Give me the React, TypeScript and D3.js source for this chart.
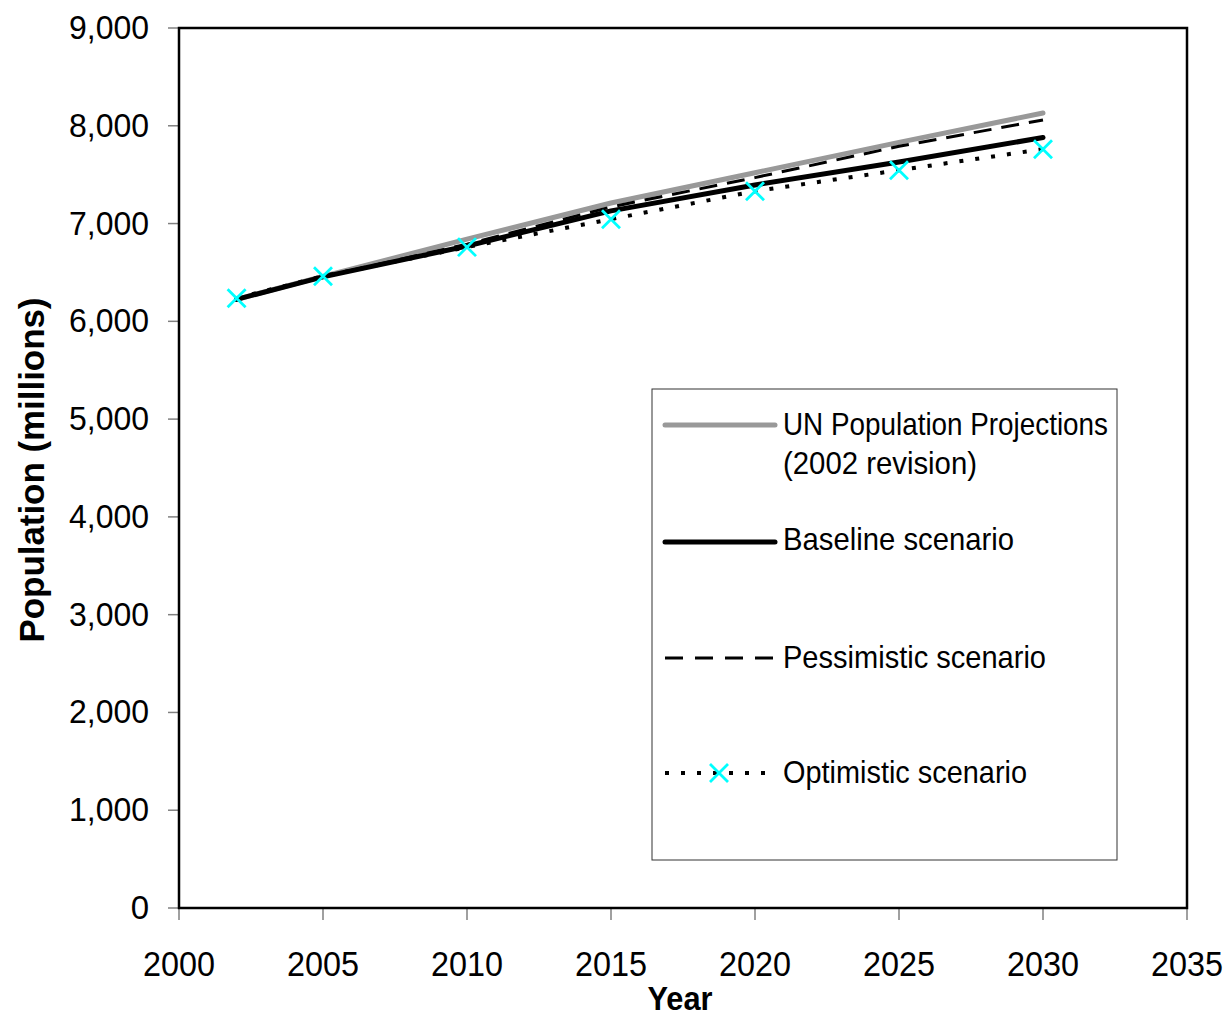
import React from "react";
import * as d3 from "d3";

// ---- data ----
const YEARS = [2002, 2005, 2010, 2015, 2020, 2025, 2030];
const UN_2002 = [6225, 6460, 6840, 7210, 7520, 7830, 8130];
const BASELINE = [6225, 6455, 6770, 7130, 7395, 7630, 7880];
const PESSIMISTIC = [6225, 6455, 6790, 7170, 7470, 7790, 8060];
const OPTIMISTIC = [6237, 6462, 6759, 7045, 7331, 7546, 7761];

const X_TICKS = [2000, 2005, 2010, 2015, 2020, 2025, 2030, 2035];
const Y_TICKS = [0, 1000, 2000, 3000, 4000, 5000, 6000, 7000, 8000, 9000];

const W = 1230;
const H = 1017;
const FONT = "'Liberation Sans', Arial, sans-serif";

const x = d3.scaleLinear().domain([2000, 2035]).range([179, 1187]);
const y = d3.scaleLinear().domain([0, 9000]).range([908, 28]);

const line = d3
  .line<number>()
  .x((_, i) => x(YEARS[i]))
  .y((d) => y(d));

function Cross({ cx, cy }: { cx: number; cy: number }) {
  const s = 9;
  return (
    <path
      d={`M${cx - s},${cy - s}L${cx + s},${cy + s}M${cx - s},${cy + s}L${cx + s},${cy - s}`}
      stroke="#00ffff"
      strokeWidth={2.8}
      fill="none"
    />
  );
}

const LEGEND = [
  { y: 425, stroke: "#999999", width: 5, dash: "", labels: ["UN Population Projections", "(2002 revision)"], len: [325, 194] },
  { y: 542, stroke: "#000", width: 5, dash: "", labels: ["Baseline scenario"], len: [231] },
  { y: 658, stroke: "#000", width: 3, dash: "18,12", labels: ["Pessimistic scenario"], len: [263] },
  { y: 773, stroke: "#000", width: 4, dash: "4,12", labels: ["Optimistic scenario"], len: [244], marker: true },
];

export default function App() {
  const textBaselines = [[435, 474], [550], [668], [783]];
  return (
    <svg
      width={W}
      height={H}
      style={{ position: "absolute", left: 0, top: 0, background: "#fff" }}
      fontFamily={FONT}
    >
      <rect x={0} y={0} width={W} height={H} fill="#fff" />

      {/* ticks */}
      {Y_TICKS.map((t) => (
        <g key={"y" + t}>
          <line x1={168} x2={179} y1={y(t)} y2={y(t)} stroke="#808080" strokeWidth={1.5} />
          <text
            x={149}
            y={y(t) + 11}
            fontSize={33}
            textAnchor="end"
            textLength={t === 0 ? undefined : 80}
            lengthAdjust="spacingAndGlyphs"
          >
            {d3.format(",")(t)}
          </text>
        </g>
      ))}
      {X_TICKS.map((t) => (
        <g key={"x" + t}>
          <line x1={x(t)} x2={x(t)} y1={908} y2={920} stroke="#808080" strokeWidth={1.5} />
          <text
            x={x(t)}
            y={976}
            fontSize={35}
            textAnchor="middle"
            textLength={72}
            lengthAdjust="spacingAndGlyphs"
          >
            {t}
          </text>
        </g>
      ))}

      {/* frame */}
      <rect x={179} y={28} width={1187 - 179} height={908 - 28} fill="none" stroke="#000" strokeWidth={2.5} />

      {/* axis titles */}
      <text
        x={680}
        y={1010}
        fontSize={34}
        fontWeight="bold"
        textAnchor="middle"
        textLength={65}
        lengthAdjust="spacingAndGlyphs"
      >
        Year
      </text>
      <text
        transform="translate(44,470) rotate(-90)"
        fontSize={35}
        fontWeight="bold"
        textAnchor="middle"
        textLength={345}
        lengthAdjust="spacingAndGlyphs"
      >
        Population (millions)
      </text>

      {/* series */}
      <path d={line(UN_2002) ?? ""} fill="none" stroke="#999999" strokeWidth={5} strokeLinecap="round" strokeLinejoin="round" />
      <path d={line(PESSIMISTIC) ?? ""} fill="none" stroke="#000" strokeWidth={3} strokeDasharray="18,10" />
      <path d={line(BASELINE) ?? ""} fill="none" stroke="#000" strokeWidth={5} strokeLinecap="round" strokeLinejoin="round" />
      <path d={line(OPTIMISTIC) ?? ""} fill="none" stroke="#000" strokeWidth={4} strokeDasharray="4,12" />
      {OPTIMISTIC.map((v, i) => (
        <Cross key={i} cx={x(YEARS[i])} cy={y(v)} />
      ))}

      {/* legend */}
      <rect x={652} y={389} width={1117 - 652} height={860 - 389} fill="#fff" stroke="#333" strokeWidth={1} />
      {LEGEND.map((l, i) => (
        <g key={i}>
          <line
            x1={665}
            x2={775}
            y1={l.y}
            y2={l.y}
            stroke={l.stroke}
            strokeWidth={l.width}
            strokeDasharray={l.dash || undefined}
            strokeLinecap={l.dash ? "butt" : "round"}
          />
          {l.marker && <Cross cx={719} cy={l.y} />}
          {l.labels.map((s, j) => (
            <text
              key={j}
              x={783}
              y={textBaselines[i][j]}
              fontSize={32}
              textLength={l.len[j]}
              lengthAdjust="spacingAndGlyphs"
            >
              {s}
            </text>
          ))}
        </g>
      ))}
    </svg>
  );
}
